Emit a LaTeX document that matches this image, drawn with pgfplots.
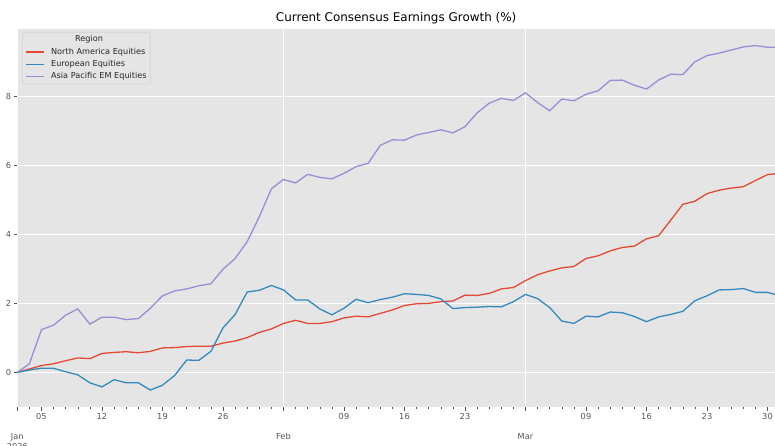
\documentclass[border=0pt]{standalone}
\usepackage{pgfplots}
\usepackage{pgfplotstable}
\usepackage{fontspec}
\setmainfont{DejaVu Sans}
\pgfplotsset{compat=1.18}
\definecolor{cna}{HTML}{E24A33}
\definecolor{ceu}{HTML}{348ABD}
\definecolor{capac}{HTML}{988ED5}
\definecolor{bgc}{HTML}{E5E5E5}
\definecolor{tk}{HTML}{555555}
\definecolor{legedge}{HTML}{D4D4D4}
\pgfplotstableread{
i na eu ap
0 0.00 0.00 0.00
1 0.10 0.07 0.25
2 0.20 0.12 1.24
3 0.25 0.12 1.37
4 0.34 0.02 1.66
5 0.42 -0.07 1.84
6 0.40 -0.30 1.40
7 0.55 -0.42 1.60
8 0.58 -0.21 1.60
9 0.60 -0.30 1.53
10 0.57 -0.30 1.56
11 0.61 -0.51 1.86
12 0.71 -0.37 2.22
13 0.72 -0.09 2.36
14 0.75 0.36 2.42
15 0.76 0.35 2.51
16 0.76 0.61 2.57
17 0.85 1.29 2.99
18 0.91 1.68 3.30
19 1.01 2.33 3.79
20 1.16 2.38 4.51
21 1.26 2.52 5.32
22 1.42 2.39 5.59
23 1.51 2.10 5.49
24 1.42 2.10 5.74
25 1.42 1.84 5.65
26 1.47 1.67 5.61
27 1.58 1.86 5.77
28 1.63 2.12 5.96
29 1.61 2.02 6.06
30 1.71 2.11 6.58
31 1.81 2.18 6.74
32 1.94 2.28 6.73
33 1.99 2.26 6.88
34 2.00 2.23 6.95
35 2.05 2.13 7.03
36 2.07 1.85 6.94
37 2.24 1.88 7.12
38 2.23 1.89 7.52
39 2.29 1.91 7.80
40 2.42 1.90 7.94
41 2.46 2.05 7.88
42 2.66 2.26 8.10
43 2.83 2.14 7.82
44 2.94 1.88 7.58
45 3.03 1.49 7.92
46 3.07 1.42 7.87
47 3.30 1.63 8.06
48 3.38 1.61 8.16
49 3.52 1.75 8.46
50 3.62 1.73 8.47
51 3.66 1.62 8.32
52 3.87 1.47 8.21
53 3.96 1.61 8.47
54 4.41 1.68 8.64
55 4.87 1.77 8.63
56 4.96 2.08 9.00
57 5.18 2.22 9.18
58 5.28 2.39 9.25
59 5.34 2.40 9.34
60 5.38 2.43 9.43
61 5.56 2.32 9.47
62 5.73 2.32 9.42
63 5.77 2.22 9.42
}\datatable
\begin{document}
\begin{tikzpicture}
\begin{axis}[
  name=ax,
  scale only axis,
  width=757.7bp, height=378.3bp,
  xmin=0, xmax=62.62, ymin=-1.01, ymax=9.95,
  axis background/.style={fill=bgc},
  axis line style={draw=none},
  tick align=outside,
  xtick pos=lower, ytick pos=left,
  major tick length=3.5bp, minor tick length=2bp,
  tick style={color=tk, line width=0.7bp},
  minor tick style={color=tk, line width=0.6bp},
  xtick={2,7,12,17,27,32,37,47,52,57,62},
  xticklabels={05,12,19,26,09,16,23,09,16,23,30},
  minor xtick={0,1,...,63},
  extra x ticks={0,22,42},
  extra x tick labels={{Jan\\2026},Feb,Mar},
  extra x tick style={grid=major, xticklabel style={yshift=-20.5bp, align=center}},
  ytick={0,2,4,6,8},
  ymajorgrids,
  major grid style={white, line width=0.9bp},
  /pgf/number format/assume math mode=true,
  ticklabel style={font=\fontsize{8.3}{10.5}\selectfont, text=tk},
  xticklabel style={inner sep=2bp},
  yticklabel style={inner sep=2.5bp},
  title={Current Consensus Earnings Growth (\%)},
  title style={font=\fontsize{12}{14}\selectfont, at={(0.5,1)}, anchor=south, inner sep=0bp, yshift=-1.5bp},
  legend style={at={(0,1)}, anchor=north west, xshift=4.7bp, yshift=-3bp,
    fill=bgc, draw=legedge, line width=0.6bp, rounded corners=2bp,
    font=\fontsize{8.2}{9.5}\selectfont, text=black!85,
    inner xsep=3.5bp, inner ysep=3.5bp, row sep=4.3bp, column sep=6bp,
    nodes={inner sep=0bp, text height=6.2bp, text depth=1.8bp}},
  legend cell align=left,
  legend image code/.code={\draw[#1] (0bp,0bp) -- (18bp,0bp);},
]
\addlegendimage{empty legend}
\addlegendentry{\hspace*{24bp}Region}
\addplot[cna, line width=1.3bp] table[x=i, y=na] {\datatable};
\addlegendentry{North America Equities}
\addplot[ceu, line width=1.3bp] table[x=i, y=eu] {\datatable};
\addlegendentry{European Equities}
\addplot[capac, line width=1.3bp] table[x=i, y=ap] {\datatable};
\addlegendentry{Asia Pacific EM Equities}
\end{axis}
\pgfresetboundingbox
\path[use as bounding box] ([shift={(-17.3bp,-38.7bp)}]ax.south west) rectangle ([shift={(0bp,29bp)}]ax.north east);
\end{tikzpicture}
\end{document}
